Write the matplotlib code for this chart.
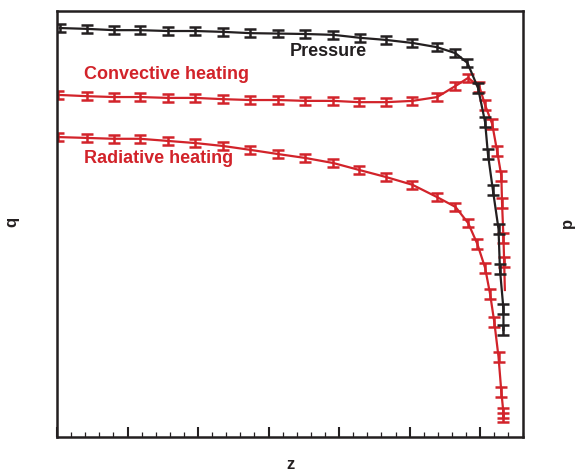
import numpy as np
import matplotlib
matplotlib.use('Agg')
import matplotlib.pyplot as plt
from matplotlib.ticker import MultipleLocator, NullFormatter

# ---- data ----
p_z = [0.04, 0.43, 0.81, 1.18, 1.57, 1.96, 2.36, 2.74, 3.14, 3.52, 3.92, 4.30, 4.67,
       5.04, 5.39, 5.65, 5.82, 5.97, 6.07, 6.11, 6.18, 6.26, 6.28, 6.33, 6.33]
p_val = [96.0, 95.8, 95.5, 95.5, 95.3, 95.3, 95.1, 94.8, 94.7, 94.6, 94.4, 93.7, 93.2,
         92.5, 91.5, 90.1, 87.8, 81.9, 73.9, 66.4, 58.0, 48.8, 39.4, 30.0, 25.1]
p_err = [0.9] * 17 + [1.1] * 8

c_z = [0.02, 0.43, 0.81, 1.18, 1.57, 1.96, 2.36, 2.74, 3.14, 3.52, 3.92, 4.28, 4.67,
       5.04, 5.39, 5.65, 5.83, 5.99, 6.07, 6.17, 6.24, 6.30, 6.31, 6.33, 6.34]
c_val = [80.3, 80.0, 79.8, 79.8, 79.6, 79.6, 79.3, 79.1, 79.1, 78.9, 78.9, 78.6, 78.6,
         78.9, 79.8, 82.4, 84.3, 82.2, 77.9, 73.5, 67.1, 61.3, 54.9, 46.7, 41.1]
c_err = [0.9] * 17 + [1.1] * 8
c_end_z = [6.34, 6.35]
c_end_val = [41.1, 34.5]

r_z = [0.02, 0.43, 0.81, 1.18, 1.57, 1.96, 2.36, 2.74, 3.14, 3.52, 3.92, 4.28, 4.67,
       5.04, 5.39, 5.65, 5.83, 5.96, 6.07, 6.14, 6.20, 6.26, 6.30, 6.33, 6.33]
r_val = [70.4, 70.2, 70.0, 70.0, 69.5, 69.0, 68.3, 67.4, 66.4, 65.5, 64.3, 62.7, 61.0,
         59.2, 56.3, 54.0, 50.2, 45.3, 39.7, 33.6, 27.0, 18.8, 10.6, 5.6, 4.5]
r_err = [0.9] * 17 + [1.1] * 8

black = '#231f20'
red = '#d2232a'

plt.rcParams['font.family'] = ['Liberation Sans', 'DejaVu Sans']

fig = plt.figure(figsize=(5.78, 4.72), dpi=100)
ax = fig.add_axes([0.0986, 0.0742, 0.8066, 0.9025])

ax.plot(p_z, p_val, color=black, lw=1.6, zorder=3)
ax.errorbar(p_z, p_val, yerr=p_err, fmt='none', ecolor=black, elinewidth=1.8,
            capsize=4.5, capthick=1.8, zorder=3)

ax.plot(c_z, c_val, color=red, lw=1.6, zorder=2)
ax.plot(c_end_z, c_end_val, color=red, lw=1.6, zorder=2)
ax.errorbar(c_z, c_val, yerr=c_err, fmt='none', ecolor=red, elinewidth=1.8,
            capsize=4.5, capthick=1.8, zorder=2)

ax.plot(r_z, r_val, color=red, lw=1.6, zorder=2)
ax.errorbar(r_z, r_val, yerr=r_err, fmt='none', ecolor=red, elinewidth=1.8,
            capsize=4.5, capthick=1.8, zorder=2)

ax.text(3.84, 90.6, 'Pressure', color=black, fontsize=13, fontweight='bold',
        ha='center', va='center')
ax.text(0.38, 85.2, 'Convective heating', color=red, fontsize=13, fontweight='bold',
        ha='left', va='center')
ax.text(0.38, 65.3, 'Radiative heating', color=red, fontsize=13, fontweight='bold',
        ha='left', va='center')

ax.set_xlim(0, 6.61)
ax.set_ylim(0, 100)
ax.xaxis.set_major_locator(MultipleLocator(1))
ax.xaxis.set_minor_locator(MultipleLocator(0.2))
ax.xaxis.set_major_formatter(NullFormatter())
ax.set_yticks([])
ax.tick_params(axis='x', which='major', direction='in', length=7, width=1.5, color=black)
ax.tick_params(axis='x', which='minor', direction='in', length=3.5, width=0.9, color=black)
for s in ax.spines.values():
    s.set_linewidth(1.8)
    s.set_color(black)

fig.text(0.021, 0.53, 'q', rotation=90, fontsize=12, fontweight='bold',
         ha='center', va='center', color=black)
fig.text(0.982, 0.528, 'p', rotation=90, fontsize=12, fontweight='bold',
         ha='center', va='center', color=black)
fig.text(0.502, 0.015, 'z', fontsize=12, fontweight='bold',
         ha='center', va='center', color=black)

fig.savefig('out.png', dpi=100)
